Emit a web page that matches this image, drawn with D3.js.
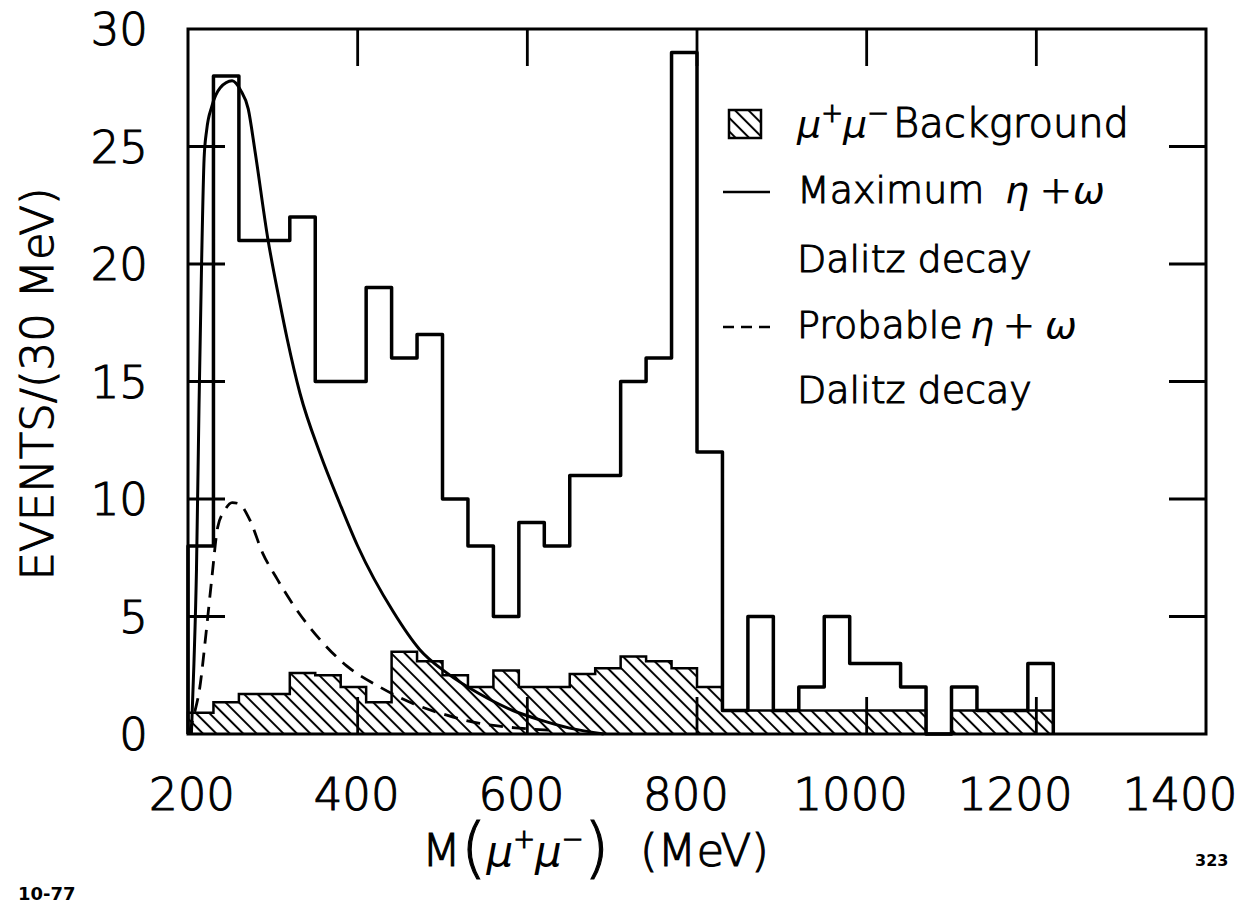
<!DOCTYPE html>
<html><head><meta charset="utf-8">
<script src="https://cdn.jsdelivr.net/npm/d3@7"></script>
<style>
body{margin:0;background:#fff}svg{display:block}
text.lt{font-family:'DejaVu Sans',sans-serif;font-weight:200;stroke:#000;stroke-width:1.1px;fill:#000}
text.lt tspan.it{font-style:italic;stroke-width:0}
</style>
</head><body>
<svg id="chart" width="1241" height="906"></svg>
<script>
// ---- data ----
const binLow = [200,230,260,290,320,350,380,410,440,470,500,530,560,590,620,650,680,710,740,770,800,830,860,890,920,950,980,1010,1040,1070,1100,1130,1160,1190];
const binWidth = 30;
const eventCounts = [8,28,21,21,22,15,15,19,16,17,10,8,5,9,8,11,11,15,16,29,12,1,5,1,2,5,3,3,2,0,2,1,1,3];
const backgroundCounts = [0.9,1.35,1.7,1.7,2.6,2.5,2.0,1.35,3.5,3.1,2.5,2.0,2.7,2.0,2.0,2.55,2.8,3.3,3.1,2.8,2.0,1.0,1.0,1.0,1.0,1.0,1.0,1.0,1.0,0,1.0,1.0,1.0,1.0];
const maxMass = [204,207,210,213,216,219,222,228,238,252,262,271,279,294,308,317,332,356,379,400,442,473,505,544,583,615,650,690];
const maxValue = [0,3,7,14,20,24.5,25.7,26.7,27.5,27.8,27.4,26.6,24.8,21.1,18.4,16.8,14.5,11.9,9.8,8.0,5.2,3.6,2.6,1.7,1.0,0.6,0.25,0];
const probMass = [201,207,214,221,228,235,243,252,260,273,288,305,324,356,387,426,465,505,544,590,635];
const probValue = [0,0.8,2.0,4.2,6.6,8.8,9.5,9.85,9.8,9.1,7.7,6.6,5.5,4.0,2.9,2.0,1.3,0.8,0.45,0.25,0.15];
const xTickValues = [200,400,600,800,1000,1200,1400];
const yTickValues = [0,5,10,15,20,25,30];

// ---- layout ----
const svg = d3.select("#chart");
const L = 188, R = 1206, T = 29, B = 734;
const x = d3.scaleLinear().domain([200,1400]).range([L,R]);
const xLabel = d3.scaleLinear().domain([200,1400]).range([192,1180]); // hand-lettered label placement
const y = d3.scaleLinear().domain([0,30]).range([B,T]);
const tickLen = 37;

// hatch pattern
const defs = svg.append("defs");
const pat = defs.append("pattern").attr("id","hatch").attr("patternUnits","userSpaceOnUse")
  .attr("width",9.5).attr("height",9.5).attr("patternTransform","rotate(-45)");
pat.append("line").attr("x1",4.75).attr("y1",-1).attr("x2",4.75).attr("y2",10.5)
  .attr("stroke","#000").attr("stroke-width",2);

function stepPts(vals){
  const pts = vals.map((v,i)=>[binLow[i], v]);
  pts.push([binLow[binLow.length-1]+binWidth, vals[vals.length-1]]);
  return pts;
}
const bgPts = stepPts(backgroundCounts);
const area = d3.area().curve(d3.curveStepAfter).x(d=>x(d[0])).y0(y(0)).y1(d=>y(d[1]));
svg.append("path").attr("d",area(bgPts)).attr("fill","url(#hatch)");
const stepLine = d3.line().curve(d3.curveStepAfter).x(d=>x(d[0])).y(d=>y(d[1]));
const bgOutline = [[binLow[0],0]].concat(bgPts).concat([[binLow[binLow.length-1]+binWidth,0]]);
svg.append("path").attr("d",stepLine(bgOutline)).attr("fill","none").attr("stroke","#000").attr("stroke-width",2.5);

// curves
const curveLine = d3.line().curve(d3.curveMonotoneX).x(d=>x(d[0])).y(d=>y(d[1]));
svg.append("path").attr("d",curveLine(maxMass.map((m,i)=>[m,maxValue[i]])))
  .attr("fill","none").attr("stroke","#000").attr("stroke-width",3);
svg.append("path").attr("d",curveLine(probMass.map((m,i)=>[m,probValue[i]])))
  .attr("fill","none").attr("stroke","#000").attr("stroke-width",2.8).attr("stroke-dasharray","14,9");

// main histogram
const evPts = [[binLow[0],0]].concat(stepPts(eventCounts)).concat([[binLow[binLow.length-1]+binWidth,0]]);
svg.append("path").attr("d",stepLine(evPts)).attr("fill","none").attr("stroke","#000")
  .attr("stroke-width",3.5).attr("stroke-linejoin","round");

// frame
svg.append("rect").attr("x",L).attr("y",T).attr("width",R-L).attr("height",B-T)
  .attr("fill","none").attr("stroke","#000").attr("stroke-width",3);

// ticks (inward, all sides)
const tk = svg.append("g").attr("stroke","#000").attr("stroke-width",2.8);
yTickValues.filter(v=>v>0&&v<30).forEach(v=>{
  tk.append("line").attr("x1",L).attr("x2",L+tickLen).attr("y1",y(v)).attr("y2",y(v));
  tk.append("line").attr("x1",R).attr("x2",R-tickLen).attr("y1",y(v)).attr("y2",y(v));
});
xTickValues.filter(v=>v>200&&v<1400).forEach(v=>{
  tk.append("line").attr("x1",x(v)).attr("x2",x(v)).attr("y1",T).attr("y2",T+tickLen);
  tk.append("line").attr("x1",x(v)).attr("x2",x(v)).attr("y1",B).attr("y2",B-tickLen);
});

// tick labels
svg.append("g").selectAll("text").data(yTickValues).join("text").attr("class","lt")
  .attr("x",148).attr("y",d=>y(d)).attr("dy","0.36em").attr("text-anchor","end")
  .attr("font-size",45).text(d=>d);
svg.append("g").selectAll("text").data(xTickValues).join("text").attr("class","lt")
  .attr("x",d=>xLabel(d)).attr("y",810).attr("text-anchor","middle")
  .attr("font-size",45).text(d=>d);

// axis titles
svg.append("text").attr("class","lt").attr("transform","translate(53,384) rotate(-90)").attr("text-anchor","middle")
  .attr("font-size",45).text("EVENTS/(30 MeV)");
const xt = svg.append("text").attr("class","lt").attr("x",422).attr("y",866).attr("font-size",45);
xt.append("tspan").text("M");
xt.append("tspan").attr("font-size",66).attr("dy",4).text("(");
xt.append("tspan").attr("class","it").attr("font-size",42).attr("dy",-4).text("μ");
xt.append("tspan").attr("font-size",26).attr("dy",-18).text("+");
xt.append("tspan").attr("class","it").attr("font-size",42).attr("dy",18).text("μ");
xt.append("tspan").attr("font-size",26).attr("dy",-18).text("−");
xt.append("tspan").attr("font-size",66).attr("dy",22).text(")");
xt.append("tspan").attr("dy",-4).attr("x",640).text("(MeV)");

// legend
const lg = svg.append("g");
lg.append("rect").attr("x",729).attr("y",110).attr("width",32).attr("height",28)
  .attr("fill","url(#hatch)").attr("stroke","#000").attr("stroke-width",2.5);
const t1 = lg.append("text").attr("class","lt").attr("font-size",38).attr("x",797).attr("y",137);
t1.append("tspan").attr("class","it").text("μ");
t1.append("tspan").attr("font-size",26).attr("dy",-15).text("+");
t1.append("tspan").attr("class","it").attr("dy",15).text("μ");
t1.append("tspan").attr("font-size",26).attr("dy",-15).text("−");
t1.append("tspan").attr("dy",15).attr("x",893).attr("font-size",40).text("Background");
lg.append("line").attr("x1",723).attr("x2",770).attr("y1",192).attr("y2",192).attr("stroke","#000").attr("stroke-width",2.5);
const t2 = lg.append("text").attr("class","lt").attr("font-size",38).attr("x",797).attr("y",203);
t2.append("tspan").text("Maximum");
t2.append("tspan").attr("x",1005).attr("class","it").text("η");
t2.append("tspan").attr("x",1040).text("+");
t2.append("tspan").attr("x",1073).attr("class","it").text("ω");
lg.append("text").attr("class","lt").attr("font-size",38).attr("x",797).attr("y",272).text("Dalitz decay");
lg.append("line").attr("x1",723).attr("x2",770).attr("y1",327).attr("y2",327).attr("stroke","#000")
  .attr("stroke-width",2.5).attr("stroke-dasharray","11,7");
const t4 = lg.append("text").attr("class","lt").attr("font-size",38).attr("x",797).attr("y",338);
t4.append("tspan").text("Probable");
t4.append("tspan").attr("x",970).attr("class","it").text("η");
t4.append("tspan").attr("x",1003).text("+");
t4.append("tspan").attr("x",1045).attr("class","it").text("ω");
lg.append("text").attr("class","lt").attr("font-size",38).attr("x",797).attr("y",403).text("Dalitz decay");

// corner annotations
svg.append("text").attr("x",18).attr("y",900).attr("font-family","'DejaVu Sans', sans-serif").attr("font-size",18)
  .attr("font-weight","bold").text("10-77");
svg.append("text").attr("x",1195).attr("y",866).attr("font-family","'DejaVu Sans', sans-serif").attr("font-size",16)
  .attr("font-weight","bold").text("323");
</script>
</body></html>
